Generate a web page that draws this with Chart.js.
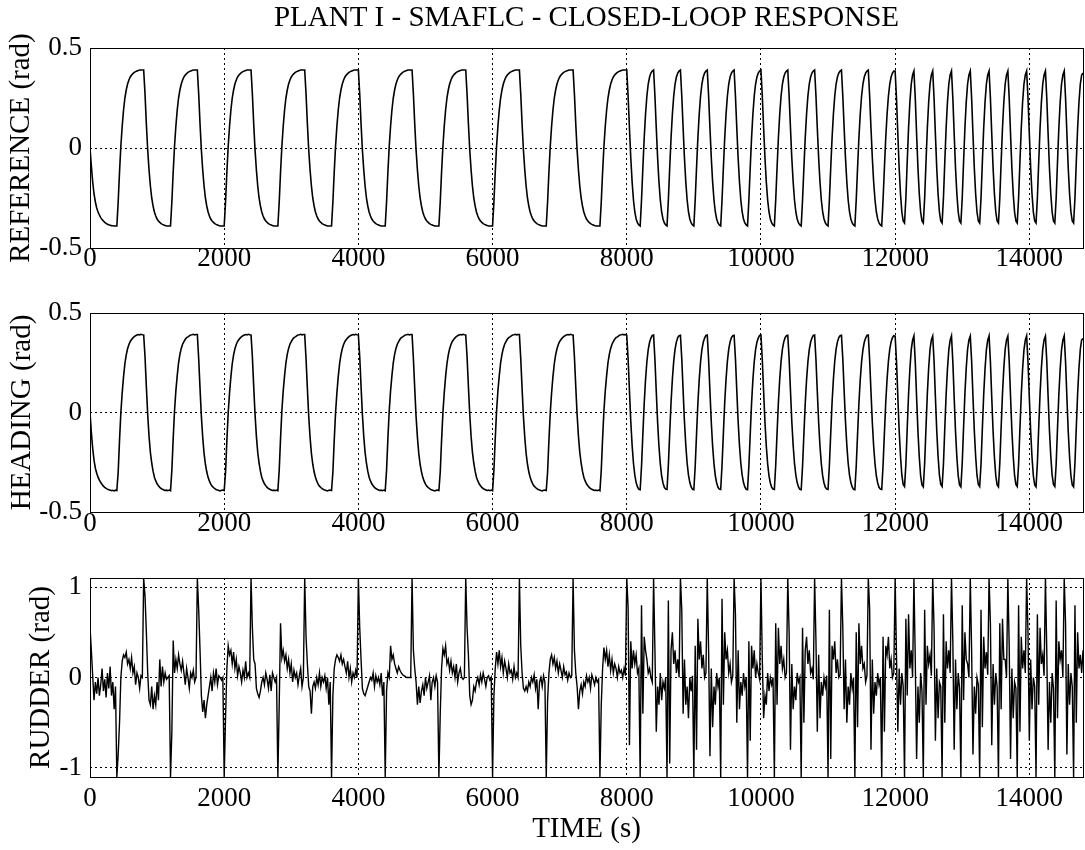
<!DOCTYPE html>
<html>
<head>
<meta charset="utf-8">
<script src="https://cdn.jsdelivr.net/npm/chart.js@4/dist/chart.umd.min.js"></script>
<style>
  body { margin: 0; background: #fff; }
  canvas { position: absolute; left: 0; }
</style>
</head>
<body>
<canvas id="referenceChart" width="1085" height="280" style="top:0px"></canvas>
<canvas id="headingChart" width="1085" height="280" style="top:265px"></canvas>
<canvas id="rudderChart" width="1085" height="320" style="top:530px"></canvas>
<script>
// samples every 20 s, 0 .. 14800 s
const sampleStep = 20;
const timeTicks = [0, 2000, 4000, 6000, 8000, 10000, 12000, 14000];
const angleTicks = [-0.5, 0, 0.5];
const rudderTicks = [-1, 0, 1];

const reference = [
  0,-0.09,-0.17,-0.23,-0.27,-0.3,-0.32,-0.335,-0.348,-0.358,-0.365,-0.372,-0.377,-0.381,-0.384,-0.386,-0.388,-0.389,-0.39,-0.39,
  -0.39,-0.27,-0.12,0.01,0.11,0.19,0.25,0.29,0.32,0.34,0.355,0.365,0.372,0.378,0.382,0.385,0.388,0.39,0.39,0.39,
  0.39,0.27,0.12,-0.01,-0.11,-0.19,-0.25,-0.29,-0.32,-0.34,-0.355,-0.365,-0.372,-0.378,-0.382,-0.385,-0.388,-0.39,-0.39,-0.39,
  -0.39,-0.27,-0.12,0.01,0.11,0.19,0.25,0.29,0.32,0.34,0.355,0.365,0.372,0.378,0.382,0.385,0.388,0.39,0.39,0.39,
  0.39,0.27,0.12,-0.01,-0.11,-0.19,-0.25,-0.29,-0.32,-0.34,-0.355,-0.365,-0.372,-0.378,-0.382,-0.385,-0.388,-0.39,-0.39,-0.39,
  -0.39,-0.27,-0.12,0.01,0.11,0.19,0.25,0.29,0.32,0.34,0.355,0.365,0.372,0.378,0.382,0.385,0.388,0.39,0.39,0.39,
  0.39,0.27,0.12,-0.01,-0.11,-0.19,-0.25,-0.29,-0.32,-0.34,-0.355,-0.365,-0.372,-0.378,-0.382,-0.385,-0.388,-0.39,-0.39,-0.39,
  -0.39,-0.27,-0.12,0.01,0.11,0.19,0.25,0.29,0.32,0.34,0.355,0.365,0.372,0.378,0.382,0.385,0.388,0.39,0.39,0.39,
  0.39,0.27,0.12,-0.01,-0.11,-0.19,-0.25,-0.29,-0.32,-0.34,-0.355,-0.365,-0.372,-0.378,-0.382,-0.385,-0.388,-0.39,-0.39,-0.39,
  -0.39,-0.27,-0.12,0.01,0.11,0.19,0.25,0.29,0.32,0.34,0.355,0.365,0.372,0.378,0.382,0.385,0.388,0.39,0.39,0.39,
  0.39,0.27,0.12,-0.01,-0.11,-0.19,-0.25,-0.29,-0.32,-0.34,-0.355,-0.365,-0.372,-0.378,-0.382,-0.385,-0.388,-0.39,-0.39,-0.39,
  -0.39,-0.27,-0.12,0.01,0.11,0.19,0.25,0.29,0.32,0.34,0.355,0.365,0.372,0.378,0.382,0.385,0.388,0.39,0.39,0.39,
  0.39,0.27,0.12,-0.01,-0.11,-0.19,-0.25,-0.29,-0.32,-0.34,-0.355,-0.365,-0.372,-0.378,-0.382,-0.385,-0.388,-0.39,-0.39,-0.39,
  -0.39,-0.27,-0.12,0.01,0.11,0.19,0.25,0.29,0.32,0.34,0.355,0.365,0.372,0.378,0.382,0.385,0.388,0.39,0.39,0.39,
  0.39,0.27,0.12,-0.01,-0.11,-0.19,-0.25,-0.29,-0.32,-0.34,-0.355,-0.365,-0.372,-0.378,-0.382,-0.385,-0.388,-0.39,-0.39,-0.39,
  -0.39,-0.27,-0.12,0.01,0.11,0.19,0.25,0.29,0.32,0.34,0.355,0.365,0.372,0.378,0.382,0.385,0.388,0.39,0.39,0.39,
  0.39,0.27,0.12,-0.01,-0.11,-0.19,-0.25,-0.29,-0.32,-0.34,-0.355,-0.365,-0.372,-0.378,-0.382,-0.385,-0.388,-0.39,-0.39,-0.39,
  -0.39,-0.27,-0.12,0.01,0.11,0.19,0.25,0.29,0.32,0.34,0.355,0.365,0.372,0.378,0.382,0.385,0.388,0.39,0.39,0.39,
  0.39,0.27,0.12,-0.01,-0.11,-0.19,-0.25,-0.29,-0.32,-0.34,-0.355,-0.365,-0.372,-0.378,-0.382,-0.385,-0.388,-0.39,-0.39,-0.39,
  -0.39,-0.27,-0.12,0.01,0.11,0.19,0.25,0.29,0.32,0.34,0.355,0.365,0.372,0.378,0.382,0.385,0.388,0.39,0.39,0.39,
  0.39,0.26,0.1,-0.05,-0.17,-0.26,-0.32,-0.355,-0.375,-0.385,
  -0.39,-0.26,-0.1,0.05,0.17,0.26,0.32,0.355,0.375,0.385,
  0.39,0.26,0.1,-0.05,-0.17,-0.26,-0.32,-0.355,-0.375,-0.385,
  -0.39,-0.26,-0.1,0.05,0.17,0.26,0.32,0.355,0.375,0.385,
  0.39,0.26,0.1,-0.05,-0.17,-0.26,-0.32,-0.355,-0.375,-0.385,
  -0.39,-0.26,-0.1,0.05,0.17,0.26,0.32,0.355,0.375,0.385,
  0.39,0.26,0.1,-0.05,-0.17,-0.26,-0.32,-0.355,-0.375,-0.385,
  -0.39,-0.26,-0.1,0.05,0.17,0.26,0.32,0.355,0.375,0.385,
  0.39,0.26,0.1,-0.05,-0.17,-0.26,-0.32,-0.355,-0.375,-0.385,
  -0.39,-0.26,-0.1,0.05,0.17,0.26,0.32,0.355,0.375,0.385,
  0.39,0.26,0.1,-0.05,-0.17,-0.26,-0.32,-0.355,-0.375,-0.385,
  -0.39,-0.26,-0.1,0.05,0.17,0.26,0.32,0.355,0.375,0.385,
  0.39,0.26,0.1,-0.05,-0.17,-0.26,-0.32,-0.355,-0.375,-0.385,
  -0.39,-0.26,-0.1,0.05,0.17,0.26,0.32,0.355,0.375,0.385,
  0.39,0.26,0.1,-0.05,-0.17,-0.26,-0.32,-0.355,-0.375,-0.385,
  -0.39,-0.26,-0.1,0.05,0.17,0.26,0.32,0.355,0.375,0.385,
  0.39,0.26,0.1,-0.05,-0.17,-0.26,-0.32,-0.355,-0.375,-0.385,
  -0.39,-0.26,-0.1,0.05,0.17,0.26,0.32,0.355,0.375,0.385,
  0.39,0.26,0.1,-0.05,-0.17,-0.26,-0.32,-0.355,-0.375,-0.385,
  -0.39,-0.26,-0.1,0.05,0.17,0.26,0.32,0.355,0.375,0.385,
  0.385,0.25,0.07,-0.1,-0.23,-0.32,-0.365,
  -0.375,-0.25,-0.07,0.1,0.23,0.32,0.365,
  0.385,0.25,0.07,-0.1,-0.23,-0.32,-0.365,
  -0.375,-0.25,-0.07,0.1,0.23,0.32,0.365,
  0.385,0.25,0.07,-0.1,-0.23,-0.32,-0.365,
  -0.375,-0.25,-0.07,0.1,0.23,0.32,0.365,
  0.385,0.25,0.07,-0.1,-0.23,-0.32,-0.365,
  -0.375,-0.25,-0.07,0.1,0.23,0.32,0.365,
  0.385,0.25,0.07,-0.1,-0.23,-0.32,-0.365,
  -0.375,-0.25,-0.07,0.1,0.23,0.32,0.365,
  0.385,0.25,0.07,-0.1,-0.23,-0.32,-0.365,
  -0.375,-0.25,-0.07,0.1,0.23,0.32,0.365,
  0.385,0.25,0.07,-0.1,-0.23,-0.32,-0.365,
  -0.375,-0.25,-0.07,0.1,0.23,0.32,0.365,
  0.385,0.25,0.07,-0.1,-0.23,-0.32,-0.365,
  -0.375,-0.25,-0.07,0.1,0.23,0.32,0.365,
  0.385,0.25,0.07,-0.1,-0.23,-0.32,-0.365,
  -0.375,-0.25,-0.07,0.1,0.23,0.32,0.365,
  0.385,0.25,0.07,-0.1,-0.23,-0.32,-0.365,
  -0.375,-0.25,-0.07,0.1,0.23,0.32,0.365,
  0.375
];

const heading = [
  0,-0.1,-0.18,-0.24,-0.28,-0.305,-0.325,-0.34,-0.352,-0.362,-0.37,-0.376,-0.381,-0.385,-0.388,-0.39,-0.393,-0.391,-0.394,-0.39,
  -0.392,-0.3,-0.14,0,0.1,0.18,0.245,0.29,0.32,0.342,0.357,0.367,0.375,0.381,0.386,0.389,0.392,0.39,0.393,0.391,
  0.39,0.28,0.13,-0.01,-0.12,-0.2,-0.255,-0.295,-0.325,-0.344,-0.358,-0.368,-0.376,-0.382,-0.386,-0.389,-0.392,-0.39,-0.393,-0.39,
  -0.393,-0.29,-0.13,0.01,0.11,0.185,0.25,0.292,0.322,0.343,0.356,0.368,0.376,0.38,0.385,0.39,0.391,0.393,0.39,0.392,
  0.392,0.27,0.12,-0.02,-0.125,-0.205,-0.26,-0.298,-0.326,-0.345,-0.36,-0.37,-0.377,-0.383,-0.387,-0.39,-0.392,-0.394,-0.391,-0.39,
  -0.392,-0.3,-0.14,0,0.1,0.18,0.245,0.29,0.32,0.342,0.357,0.367,0.375,0.381,0.386,0.389,0.392,0.39,0.393,0.391,
  0.39,0.28,0.13,-0.01,-0.12,-0.2,-0.255,-0.295,-0.325,-0.344,-0.358,-0.368,-0.376,-0.382,-0.386,-0.389,-0.392,-0.39,-0.393,-0.39,
  -0.393,-0.29,-0.13,0.01,0.11,0.185,0.25,0.292,0.322,0.343,0.356,0.368,0.376,0.38,0.385,0.39,0.391,0.393,0.39,0.392,
  0.392,0.27,0.12,-0.02,-0.125,-0.205,-0.26,-0.298,-0.326,-0.345,-0.36,-0.37,-0.377,-0.383,-0.387,-0.39,-0.392,-0.394,-0.391,-0.39,
  -0.392,-0.3,-0.14,0,0.1,0.18,0.245,0.29,0.32,0.342,0.357,0.367,0.375,0.381,0.386,0.389,0.392,0.39,0.393,0.391,
  0.39,0.28,0.13,-0.01,-0.12,-0.2,-0.255,-0.295,-0.325,-0.344,-0.358,-0.368,-0.376,-0.382,-0.386,-0.389,-0.392,-0.39,-0.393,-0.39,
  -0.393,-0.29,-0.13,0.01,0.11,0.185,0.25,0.292,0.322,0.343,0.356,0.368,0.376,0.38,0.385,0.39,0.391,0.393,0.39,0.392,
  0.392,0.27,0.12,-0.02,-0.125,-0.205,-0.26,-0.298,-0.326,-0.345,-0.36,-0.37,-0.377,-0.383,-0.387,-0.39,-0.392,-0.394,-0.391,-0.39,
  -0.392,-0.3,-0.14,0,0.1,0.18,0.245,0.29,0.32,0.342,0.357,0.367,0.375,0.381,0.386,0.389,0.392,0.39,0.393,0.391,
  0.39,0.28,0.13,-0.01,-0.12,-0.2,-0.255,-0.295,-0.325,-0.344,-0.358,-0.368,-0.376,-0.382,-0.386,-0.389,-0.392,-0.39,-0.393,-0.39,
  -0.393,-0.29,-0.13,0.01,0.11,0.185,0.25,0.292,0.322,0.343,0.356,0.368,0.376,0.38,0.385,0.39,0.391,0.393,0.39,0.392,
  0.392,0.27,0.12,-0.02,-0.125,-0.205,-0.26,-0.298,-0.326,-0.345,-0.36,-0.37,-0.377,-0.383,-0.387,-0.39,-0.392,-0.394,-0.391,-0.39,
  -0.392,-0.3,-0.14,0,0.1,0.18,0.245,0.29,0.32,0.342,0.357,0.367,0.375,0.381,0.386,0.389,0.392,0.39,0.393,0.391,
  0.39,0.28,0.13,-0.01,-0.12,-0.2,-0.255,-0.295,-0.325,-0.344,-0.358,-0.368,-0.376,-0.382,-0.386,-0.389,-0.392,-0.39,-0.393,-0.39,
  -0.393,-0.29,-0.13,0.01,0.11,0.185,0.25,0.292,0.322,0.343,0.356,0.368,0.376,0.38,0.385,0.39,0.391,0.393,0.39,0.392,
  0.388,0.27,0.11,-0.045,-0.165,-0.255,-0.315,-0.352,-0.374,-0.386,
  -0.388,-0.27,-0.11,0.045,0.165,0.255,0.316,0.353,0.374,0.387,
  0.389,0.265,0.105,-0.05,-0.17,-0.258,-0.318,-0.354,-0.376,-0.385,
  -0.387,-0.265,-0.105,0.05,0.168,0.258,0.318,0.355,0.376,0.386,
  0.388,0.27,0.11,-0.045,-0.165,-0.255,-0.315,-0.352,-0.374,-0.386,
  -0.388,-0.27,-0.11,0.045,0.165,0.255,0.316,0.353,0.374,0.387,
  0.389,0.265,0.105,-0.05,-0.17,-0.258,-0.318,-0.354,-0.376,-0.385,
  -0.387,-0.265,-0.105,0.05,0.168,0.258,0.318,0.355,0.376,0.386,
  0.388,0.27,0.11,-0.045,-0.165,-0.255,-0.315,-0.352,-0.374,-0.386,
  -0.388,-0.27,-0.11,0.045,0.165,0.255,0.316,0.353,0.374,0.387,
  0.389,0.265,0.105,-0.05,-0.17,-0.258,-0.318,-0.354,-0.376,-0.385,
  -0.387,-0.265,-0.105,0.05,0.168,0.258,0.318,0.355,0.376,0.386,
  0.388,0.27,0.11,-0.045,-0.165,-0.255,-0.315,-0.352,-0.374,-0.386,
  -0.388,-0.27,-0.11,0.045,0.165,0.255,0.316,0.353,0.374,0.387,
  0.389,0.265,0.105,-0.05,-0.17,-0.258,-0.318,-0.354,-0.376,-0.385,
  -0.387,-0.265,-0.105,0.05,0.168,0.258,0.318,0.355,0.376,0.386,
  0.388,0.27,0.11,-0.045,-0.165,-0.255,-0.315,-0.352,-0.374,-0.386,
  -0.388,-0.27,-0.11,0.045,0.165,0.255,0.316,0.353,0.374,0.387,
  0.389,0.265,0.105,-0.05,-0.17,-0.258,-0.318,-0.354,-0.376,-0.385,
  -0.387,-0.265,-0.105,0.05,0.168,0.258,0.318,0.355,0.376,0.386,
  0.384,0.26,0.08,-0.09,-0.22,-0.315,-0.362,
  -0.372,-0.26,-0.08,0.09,0.22,0.315,0.363,
  0.385,0.255,0.075,-0.095,-0.225,-0.318,-0.364,
  -0.374,-0.255,-0.075,0.095,0.225,0.318,0.365,
  0.384,0.26,0.08,-0.09,-0.22,-0.315,-0.362,
  -0.372,-0.26,-0.08,0.09,0.22,0.315,0.363,
  0.385,0.255,0.075,-0.095,-0.225,-0.318,-0.364,
  -0.374,-0.255,-0.075,0.095,0.225,0.318,0.365,
  0.384,0.26,0.08,-0.09,-0.22,-0.315,-0.362,
  -0.372,-0.26,-0.08,0.09,0.22,0.315,0.363,
  0.385,0.255,0.075,-0.095,-0.225,-0.318,-0.364,
  -0.374,-0.255,-0.075,0.095,0.225,0.318,0.365,
  0.384,0.26,0.08,-0.09,-0.22,-0.315,-0.362,
  -0.372,-0.26,-0.08,0.09,0.22,0.315,0.363,
  0.385,0.255,0.075,-0.095,-0.225,-0.318,-0.364,
  -0.374,-0.255,-0.075,0.095,0.225,0.318,0.365,
  0.384,0.26,0.08,-0.09,-0.22,-0.315,-0.362,
  -0.372,-0.26,-0.08,0.09,0.22,0.315,0.363,
  0.385,0.255,0.075,-0.095,-0.225,-0.318,-0.364,
  -0.374,-0.255,-0.075,0.095,0.225,0.318,0.365,
  0.372
];

const rudder = [
  0.56,0.3,0.02,-0.25,-0.05,-0.18,0,-0.2,-0.08,0.1,-0.15,-0.02,-0.22,0.05,-0.12,0.12,-0.2,-0.05,-0.35,-0.1,
  -1.1,-0.85,-0.5,0,0.18,0.25,0.22,0.28,0.15,0.2,0.1,0.22,0.05,0.12,-0.08,0.05,0,-0.12,0.02,0,
  1.1,0.9,0.5,0.05,-0.25,-0.3,-0.1,-0.35,-0.2,-0.3,-0.05,-0.25,0.2,-0.1,0.12,-0.05,0.05,-0.02,0,0.02,
  -1.1,-0.6,0.41,0.05,0.2,0.1,0.25,0.15,0.08,0.18,0.05,-0.08,0.1,0,-0.12,0.05,0,0.08,-0.05,0,
  1.1,0.75,0.3,-0.2,-0.38,-0.25,-0.45,-0.3,-0.2,-0.1,0,-0.15,0.05,-0.05,0.1,-0.08,0.02,0,-0.03,0,
  -1.1,-0.45,0.1,0.35,0.25,0.3,0.15,0.28,0.1,0.2,0.02,0.12,0.05,-0.05,0.08,0,0.18,0,0.05,0,
  1.1,0.55,0.2,0.15,-0.12,-0.18,-0.22,-0.15,-0.05,0,-0.08,0.05,-0.02,-0.12,0.03,-0.15,0.05,0,-0.05,0,
  -1.1,-0.3,0.6,0.22,0.3,0.18,0.25,0.1,0.2,0.05,0.15,-0.05,0.08,0,0.05,-0.08,0.02,0.1,-0.1,0,
  1.1,0.45,0.15,-0.1,-0.15,-0.4,-0.1,-0.05,-0.12,0,-0.08,0.05,-0.1,0,-0.05,0.02,-0.12,0,-0.3,-0.05,
  -1.1,-0.2,0.1,0.2,0.25,0.22,0.18,0.25,0.15,0.2,0.12,0.05,0.18,0,0.1,-0.05,0.05,0,0.08,0,
  1.1,0.55,0.2,-0.12,-0.18,-0.2,-0.15,-0.1,-0.05,0,-0.03,0.05,-0.1,0.02,-0.05,0,-0.08,0.05,-0.2,-0.05,
  -1.1,-0.15,0.05,0,0.35,0.2,0.25,0.15,0.1,0.05,0.12,0.08,0.05,0.03,0.02,0.01,0,0,0,0,
  1.1,0.3,0.1,-0.05,-0.3,-0.1,-0.28,-0.15,-0.08,-0.2,0,-0.12,-0.05,0.02,-0.25,-0.05,0,-0.1,0.02,-0.05,
  -1.1,-0.4,0.1,0.32,0.25,0.35,0.15,0.2,0.08,0.18,0.05,0.12,0,0.15,-0.05,0.05,0.1,0,-0.02,0,
  1.1,0.55,0.25,-0.2,-0.3,-0.25,-0.1,-0.15,-0.05,0,-0.08,0.03,-0.05,0.05,-0.02,-0.1,0,0.02,-0.03,0,
  -1.1,-0.2,0.1,0.28,0.15,0.3,0.12,0.22,0.05,0.18,0.1,0,0.15,0.05,0.08,-0.02,0.12,0,0.05,0,
  1.1,0.35,0.05,-0.12,-0.15,-0.1,-0.15,-0.05,-0.1,0,-0.05,0.03,-0.12,-0.02,-0.35,-0.05,0,-0.1,0.02,-0.05,
  -1.1,-0.25,0.05,0.2,0.25,0.15,0.22,0.1,0.18,0.05,0.15,0.08,0,0.12,0.03,0.06,-0.03,0.05,0,0.02,
  1.1,0.3,0.05,-0.1,-0.35,-0.15,-0.08,-0.18,-0.05,-0.1,0.02,-0.05,0,-0.12,0.03,-0.02,-0.08,0,-0.05,-0.02,
  -1.1,-0.3,0.1,0.33,0.2,0.3,0.12,0.25,0.08,0.2,0.05,0.15,0.1,0,0.12,0.05,0.08,0,0.1,0.02,
  1.1,0.78,-0.75,0.4,0.1,0.3,0.15,0.25,0.05,0.1,
  -1.1,0.8,-0.4,0.45,0.3,0.2,0.05,0.1,0,-0.05,
  1.1,0.3,-0.6,-0.1,-0.3,0.05,-0.25,-0.05,-0.12,0,
  -1.1,0.85,-0.95,0.3,0.5,0.15,0.3,0.05,0.2,0,
  1.1,0.75,-0.4,0.2,-0.3,-0.1,-0.45,0,-0.15,0.02,
  -1.1,0.35,-0.8,0.65,0.2,0.4,0.1,0.25,0,0.05,
  1.1,0.3,-0.87,0.1,-0.55,-0.1,-0.3,0.05,-0.1,0,
  -1.1,0.87,-0.3,0.5,0.2,0.3,0.05,0.15,-0.05,0.02,
  1.1,0.7,-0.5,0.3,-0.35,-0.05,-0.2,0.05,-0.1,0,
  -1.1,0.4,-0.7,0.35,0.1,0.3,0,0.15,0.05,-0.02,
  1.1,0.2,-0.45,-0.2,-0.3,0.05,-0.15,0,-0.08,0,
  -1.1,0.6,-0.3,0.55,0.15,0.35,0.1,0.2,0,0.05,
  1.1,0.5,-0.8,0.15,-0.35,-0.1,-0.25,0.05,-0.05,0,
  -1.1,0.55,-0.5,0.3,0.45,0.15,0.3,0.05,0.1,-0.02,
  1.1,0.4,-0.6,0.25,-0.45,-0.05,-0.2,0,-0.1,0.02,
  -1.1,0.75,-0.9,0.35,0.2,0.4,0.05,0.2,0,0.03,
  1.1,0.55,-0.35,0.2,-0.5,-0.1,-0.3,0.05,-0.12,0,
  -1.1,0.5,-0.55,0.6,0.15,0.35,0.1,0.15,-0.05,0.02,
  1.1,0.76,-0.8,0.2,-0.4,-0.05,-0.2,0.05,-0.08,0,
  -1.1,0.45,-0.6,0.35,0.25,0.45,0.1,0.2,0,0.05,
  1.1,0.25,-0.6,0.1,-0.3,0.05,-0.1,
  -1.1,0.65,-0.2,0.7,0.1,0.3,0,
  1.1,0.2,-0.9,-0.1,-0.5,0.05,-0.15,
  -1.1,0.75,-0.3,0.35,0.15,0.25,0.02,
  1.1,0.55,-0.7,0.1,-0.45,-0.05,-0.1,
  -1.1,0.7,-0.5,0.4,0.1,0.3,0.05,
  1.1,0.4,-0.8,0.2,-0.35,0.05,-0.12,
  -1.1,0.8,-0.25,0.5,0.2,0.15,0,
  1.1,0.3,-0.85,-0.1,-0.4,0,-0.08,
  -1.1,0.75,-0.55,0.45,0.1,0.28,0.03,
  1.1,0.6,-0.75,0.15,-0.3,0.05,-0.1,
  -1.1,0.6,-0.35,0.65,0.2,0.2,0,
  1.1,0.35,-0.9,0.1,-0.45,-0.05,-0.12,
  -1.1,0.8,-0.6,0.45,0.1,0.3,0.05,
  1.1,0.5,-0.7,0.2,-0.35,0,-0.1,
  -1.1,0.7,-0.3,0.55,0.15,0.25,0.02,
  1.1,0.3,-0.8,-0.05,-0.5,0.05,-0.12,
  -1.1,0.85,-0.45,0.4,0.2,0.3,0,
  1.1,0.6,-0.85,0.15,-0.3,0.05,-0.1,
  -1.1,0.8,-0.5,0.5,0.1,0.25,0.05,
  0.3
];

const serif = '"Liberation Serif", "Times New Roman", serif';
const toPoints = vals => vals.map((v, i) => ({ x: i * sampleStep, y: v }));

// solid box round the plot area, like the matlab axes
const framePlugin = {
  id: 'frame',
  afterDraw(chart) {
    const { ctx, chartArea: a } = chart;
    ctx.save();
    ctx.setLineDash([]);
    ctx.strokeStyle = '#000';
    ctx.lineWidth = 1;
    ctx.strokeRect(a.left + 0.5, a.top + 0.5, a.right - a.left, a.bottom - a.top);
    ctx.restore();
  }
};

function makePanel(id, values, cfg) {
  return new Chart(document.getElementById(id), {
    type: 'line',
    data: {
      datasets: [{
        data: toPoints(values),
        borderColor: '#000',
        borderWidth: cfg.lineWidth,
        pointRadius: 0,
        tension: 0,
        fill: false
      }]
    },
    options: {
      responsive: false,
      animation: false,
      events: [],
      layout: { padding: { top: cfg.padTop, left: cfg.padLeft, right: 2, bottom: 0 } },
      plugins: {
        legend: { display: false },
        tooltip: { enabled: false },
        title: cfg.title ? {
          display: true,
          text: cfg.title,
          fullSize: false,
          color: '#000',
          font: { family: serif, size: 29, weight: 'normal', lineHeight: 1 },
          padding: { top: 4, bottom: 15 }
        } : { display: false }
      },
      scales: {
        x: {
          type: 'linear',
          min: 0,
          max: 14800,
          afterBuildTicks: ax => { ax.ticks = timeTicks.map(v => ({ value: v })); },
          afterFit: ax => { ax.height = cfg.xHeight; },
          grid: { color: '#000', lineWidth: 1, drawTicks: false },
          border: { display: false, dash: [2, 3] },
          ticks: {
            color: '#000',
            font: { family: serif, size: 27, lineHeight: 1 },
            padding: cfg.xPad,
            maxRotation: 0,
            autoSkip: false,
            callback: v => String(v)
          },
          title: cfg.xTitle ? {
            display: true,
            text: cfg.xTitle,
            color: '#000',
            font: { family: serif, size: 29, lineHeight: 1 },
            padding: { top: 0, bottom: 6 }
          } : { display: false }
        },
        y: {
          min: cfg.yMin,
          max: cfg.yMax,
          afterBuildTicks: ax => { ax.ticks = cfg.yTicks.map(v => ({ value: v })); },
          afterFit: ax => { ax.width = cfg.yWidth; },
          grid: { color: '#000', lineWidth: 1, drawTicks: false },
          border: { display: false, dash: [2, 3] },
          ticks: {
            color: '#000',
            font: { family: serif, size: 27, lineHeight: 1 },
            padding: 8,
            callback: v => String(v)
          },
          title: {
            display: true,
            text: cfg.yTitle,
            color: '#000',
            font: { family: serif, size: 29, lineHeight: 1 },
            padding: { top: cfg.yTitlePad, bottom: 0 }
          }
        }
      }
    },
    plugins: [framePlugin]
  });
}

makePanel('referenceChart', reference, {
  title: 'PLANT I - SMAFLC - CLOSED-LOOP RESPONSE',
  yTitle: 'REFERENCE (rad)', yMin: -0.5, yMax: 0.5, yTicks: angleTicks,
  padTop: 0, padLeft: 0, yWidth: 90, yTitlePad: 7, xHeight: 32, xPad: -2.5, lineWidth: 1.6
});

makePanel('headingChart', heading, {
  yTitle: 'HEADING (rad)', yMin: -0.5, yMax: 0.5, yTicks: angleTicks,
  padTop: 48, padLeft: 0, yWidth: 90, yTitlePad: 8, xHeight: 33, xPad: -1.5, lineWidth: 1.6
});

makePanel('rudderChart', rudder, {
  yTitle: 'RUDDER (rad)', xTitle: 'TIME (s)', yMin: -1.1, yMax: 1.1, yTicks: rudderTicks,
  padTop: 48, padLeft: 20, yWidth: 70, yTitlePad: 7, xHeight: 73, xPad: 8, lineWidth: 1.4
});
</script>
</body>
</html>
